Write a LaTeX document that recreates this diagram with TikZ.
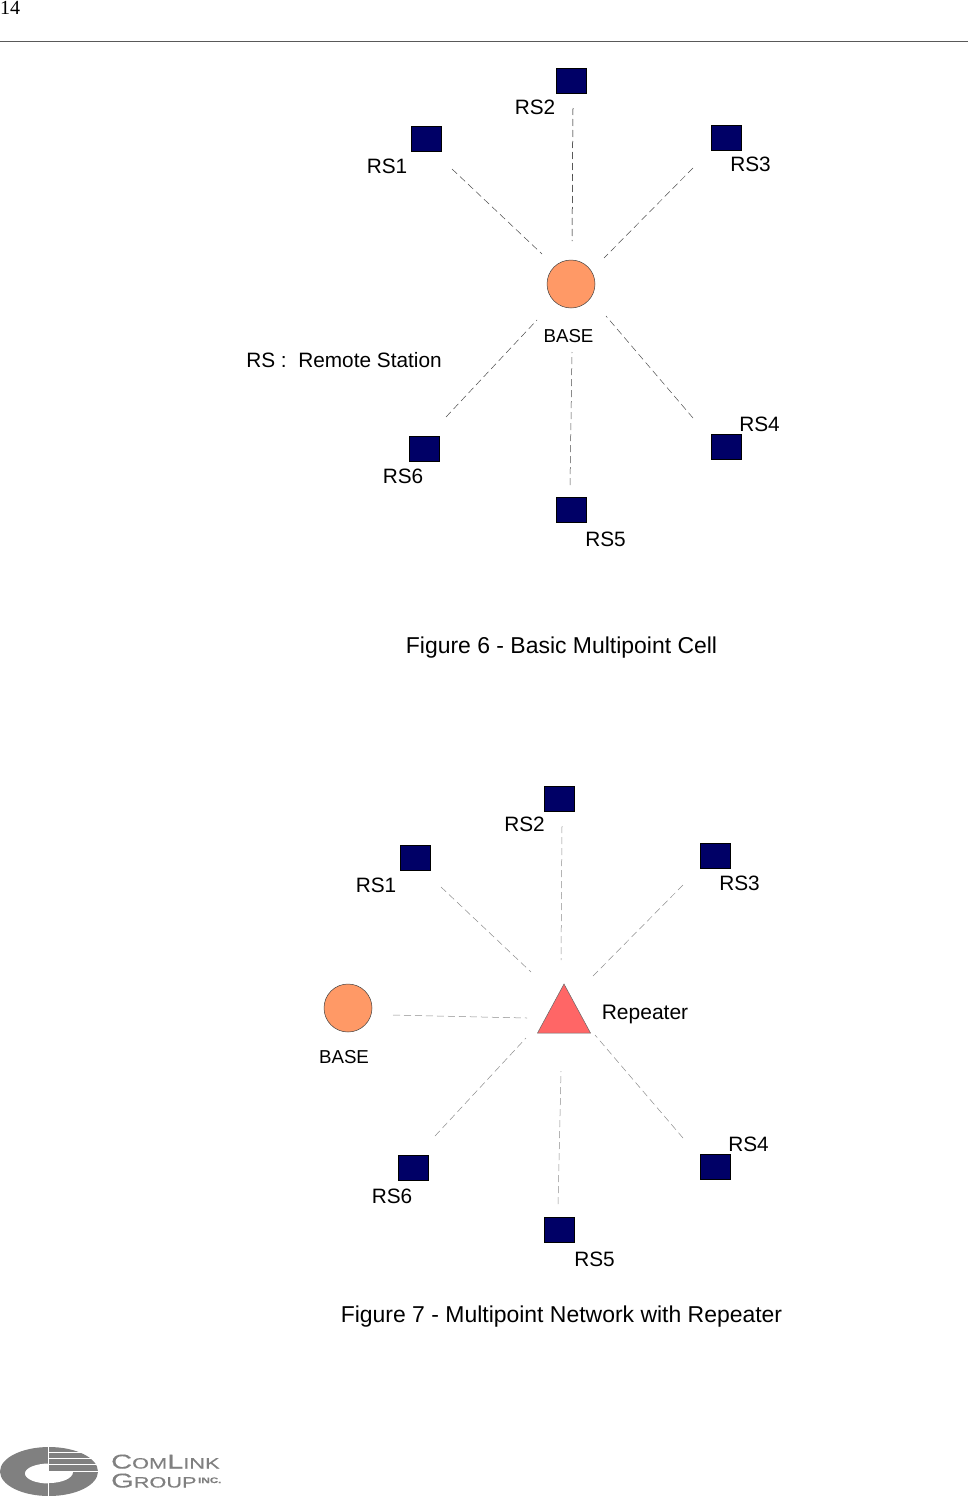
\documentclass[tikz,border=0pt]{standalone}
\usepackage{fontspec}
\setmainfont{Liberation Sans}
\newfontfamily\timesf{Liberation Serif}
\newfontfamily\logof[FakeStretch=1.45,FakeBold=0.4]{Liberation Sans}
\definecolor{rsblue}{RGB}{0,0,102}
\definecolor{baseor}{RGB}{255,153,102}
\definecolor{reprd}{RGB}{255,102,102}
\definecolor{logog}{RGB}{128,128,128}
\tikzset{
 rsbox/.style={draw=black,line width=.5pt,fill=rsblue,minimum width=30pt,minimum height=25pt,inner sep=0pt,outer sep=0pt},
 basec/.style={circle,draw=black!75,line width=.5pt,fill=baseor,minimum size=48pt,inner sep=0pt},
 lab/.style={font=\fontsize{20.8}{22}\selectfont,inner sep=0pt,anchor=base},
 smlab/.style={font=\fontsize{18.7}{20}\selectfont,inner sep=0pt,anchor=base},
 figcap/.style={font=\fontsize{22.95}{25}\selectfont,inner sep=0pt,anchor=base},
 link/.style={line width=.5pt,dash pattern=on 7pt off 4pt,black!70},
 linkpale/.style={line width=.5pt,dash pattern=on 7pt off 4pt,black!45},
}
\begin{document}
\begin{tikzpicture}[x=1pt,y=-1pt]
\useasboundingbox (0,0) rectangle (968,1496);
% header
\node[font=\timesf\fontsize{20}{22}\selectfont,inner sep=0pt,anchor=base west] (pg) at (0,14.5) {14};
\coordinate (hl) at (0,41.5); \coordinate (hr) at (968,41.5);
\draw[line width=.8pt,black!65] (hl) -- (hr);
% figure 6
\node[basec] (base) at (571,284) {};
\node[rsbox] (a1) at (426,139) {};
\node[rsbox] (a2) at (571,81) {};
\node[rsbox] (a3) at (726,137.5) {};
\node[rsbox] (a4) at (726,447) {};
\node[rsbox] (a5) at (571,510) {};
\node[rsbox] (a6) at (424,449) {};
\node[lab] (la1) at (387,173) {RS1};
\node[lab] (la2) at (535,114) {RS2};
\node[lab] (la3) at (750.5,171) {RS3};
\node[lab] (la4) at (759.5,431) {RS4};
\node[lab] (la5) at (605.5,546) {RS5};
\node[lab] (la6) at (403,483) {RS6};
\node[smlab] (lb) at (568.5,342) {BASE};
\node[lab] (legend) at (344,367) {RS :\ \ Remote Station};
\node[figcap] (c6) at (561.5,653) {Figure 6 - Basic Multipoint Cell};
\coordinate (p1a) at (452,169); \coordinate (p1b) at (542,254);
\coordinate (p2a) at (573,108); \coordinate (p2b) at (572,241);
\coordinate (p3a) at (693,168); \coordinate (p3b) at (604,258);
\coordinate (p4a) at (693,418); \coordinate (p4b) at (606,316);
\coordinate (p5a) at (570,485); \coordinate (p5b) at (572,352);
\coordinate (p6a) at (446,417); \coordinate (p6b) at (537,320);
\draw[link] (p1a) -- (p1b);
\draw[link,black] (p2a) -- (p2b);
\draw[link] (p3a) -- (p3b);
\draw[link] (p4a) -- (p4b);
\draw[link] (p5a) -- (p5b);
\draw[link] (p6a) -- (p6b);
% figure 7
\node[basec] (base2) at (348,1008) {};
\coordinate (ta) at (564,984); \coordinate (tb) at (537.5,1033); \coordinate (tc) at (590.5,1033);
\filldraw[fill=reprd,draw=black!60,line width=.5pt] (ta) -- (tb) -- (tc) -- cycle;
\node[rsbox] (b1) at (415,857.5) {};
\node[rsbox] (b2) at (559,799) {};
\node[rsbox] (b3) at (715,855.5) {};
\node[rsbox] (b4) at (715,1166.5) {};
\node[rsbox] (b5) at (559.5,1229.5) {};
\node[rsbox] (b6) at (413,1168) {};
\node[lab] (lb1) at (376,892) {RS1};
\node[lab] (lb2) at (524.5,831) {RS2};
\node[lab] (lb3) at (739.5,890) {RS3};
\node[lab] (lb4) at (748.5,1151) {RS4};
\node[lab] (lb5) at (594.5,1266) {RS5};
\node[lab] (lb6) at (392,1203) {RS6};
\node[smlab] (lb7) at (344,1063) {BASE};
\node[lab,font=\fontsize{21}{23}\selectfont] (lrep) at (645,1019) {Repeater};
\node[figcap] (c7) at (561.5,1322) {Figure 7 - Multipoint Network with Repeater};
\coordinate (q1a) at (441,887); \coordinate (q1b) at (531,972);
\coordinate (q2a) at (562,826); \coordinate (q2b) at (561,960);
\coordinate (q3a) at (683,885); \coordinate (q3b) at (593,976);
\coordinate (q4a) at (683,1138); \coordinate (q4b) at (595,1035);
\coordinate (q5a) at (558,1204); \coordinate (q5b) at (561,1071);
\coordinate (q6a) at (435,1136); \coordinate (q6b) at (526,1038);
\coordinate (q7a) at (393,1015); \coordinate (q7b) at (527,1018);
\foreach \u/\v in {q1a/q1b,q2a/q2b,q3a/q3b,q4a/q4b,q5a/q5b,q6a/q6b,q7a/q7b}
  \draw[linkpale] (\u) -- (\v);
% logo
\fill[logog] (49,1471.5) ellipse [x radius=49,y radius=24.5];
\begin{scope}
\clip (0,1440) rectangle (48.5,1496);
\fill[white] (49,1473.5) ellipse [x radius=24,y radius=10];
\end{scope}
\begin{scope}
\clip (48.5,1472) rectangle (100,1496);
\fill[white] (49,1472) ellipse [x radius=24,y radius=11];
\end{scope}
\fill[white] (48,1440) rectangle (49,1496);
\fill[white] (49,1451.7) rectangle (100,1452.7);
\fill[white] (49,1458.3) rectangle (100,1459.3);
\fill[white] (49,1464.2) rectangle (100,1465.2);
\fill[white] (49,1470.7) rectangle (100,1472.2);
\node[font=\logof\fontsize{20}{22}\selectfont,text=logog,inner sep=0pt,anchor=base west] (logo1) at (111,1468.5) {C\fontsize{15}{17}\selectfont OM\fontsize{20}{22}\selectfont L\fontsize{15}{17}\selectfont INK};
\node[font=\logof\fontsize{20}{22}\selectfont,text=logog,inner sep=0pt,anchor=base west] (logo2) at (111,1487.5) {G\fontsize{15}{17}\selectfont ROUP};
\node[font=\logof\bfseries\fontsize{8}{10}\selectfont,text=logog,inner sep=0pt,anchor=base west] (logo3) at (198,1483) {INC.};
\end{tikzpicture}
\end{document}
